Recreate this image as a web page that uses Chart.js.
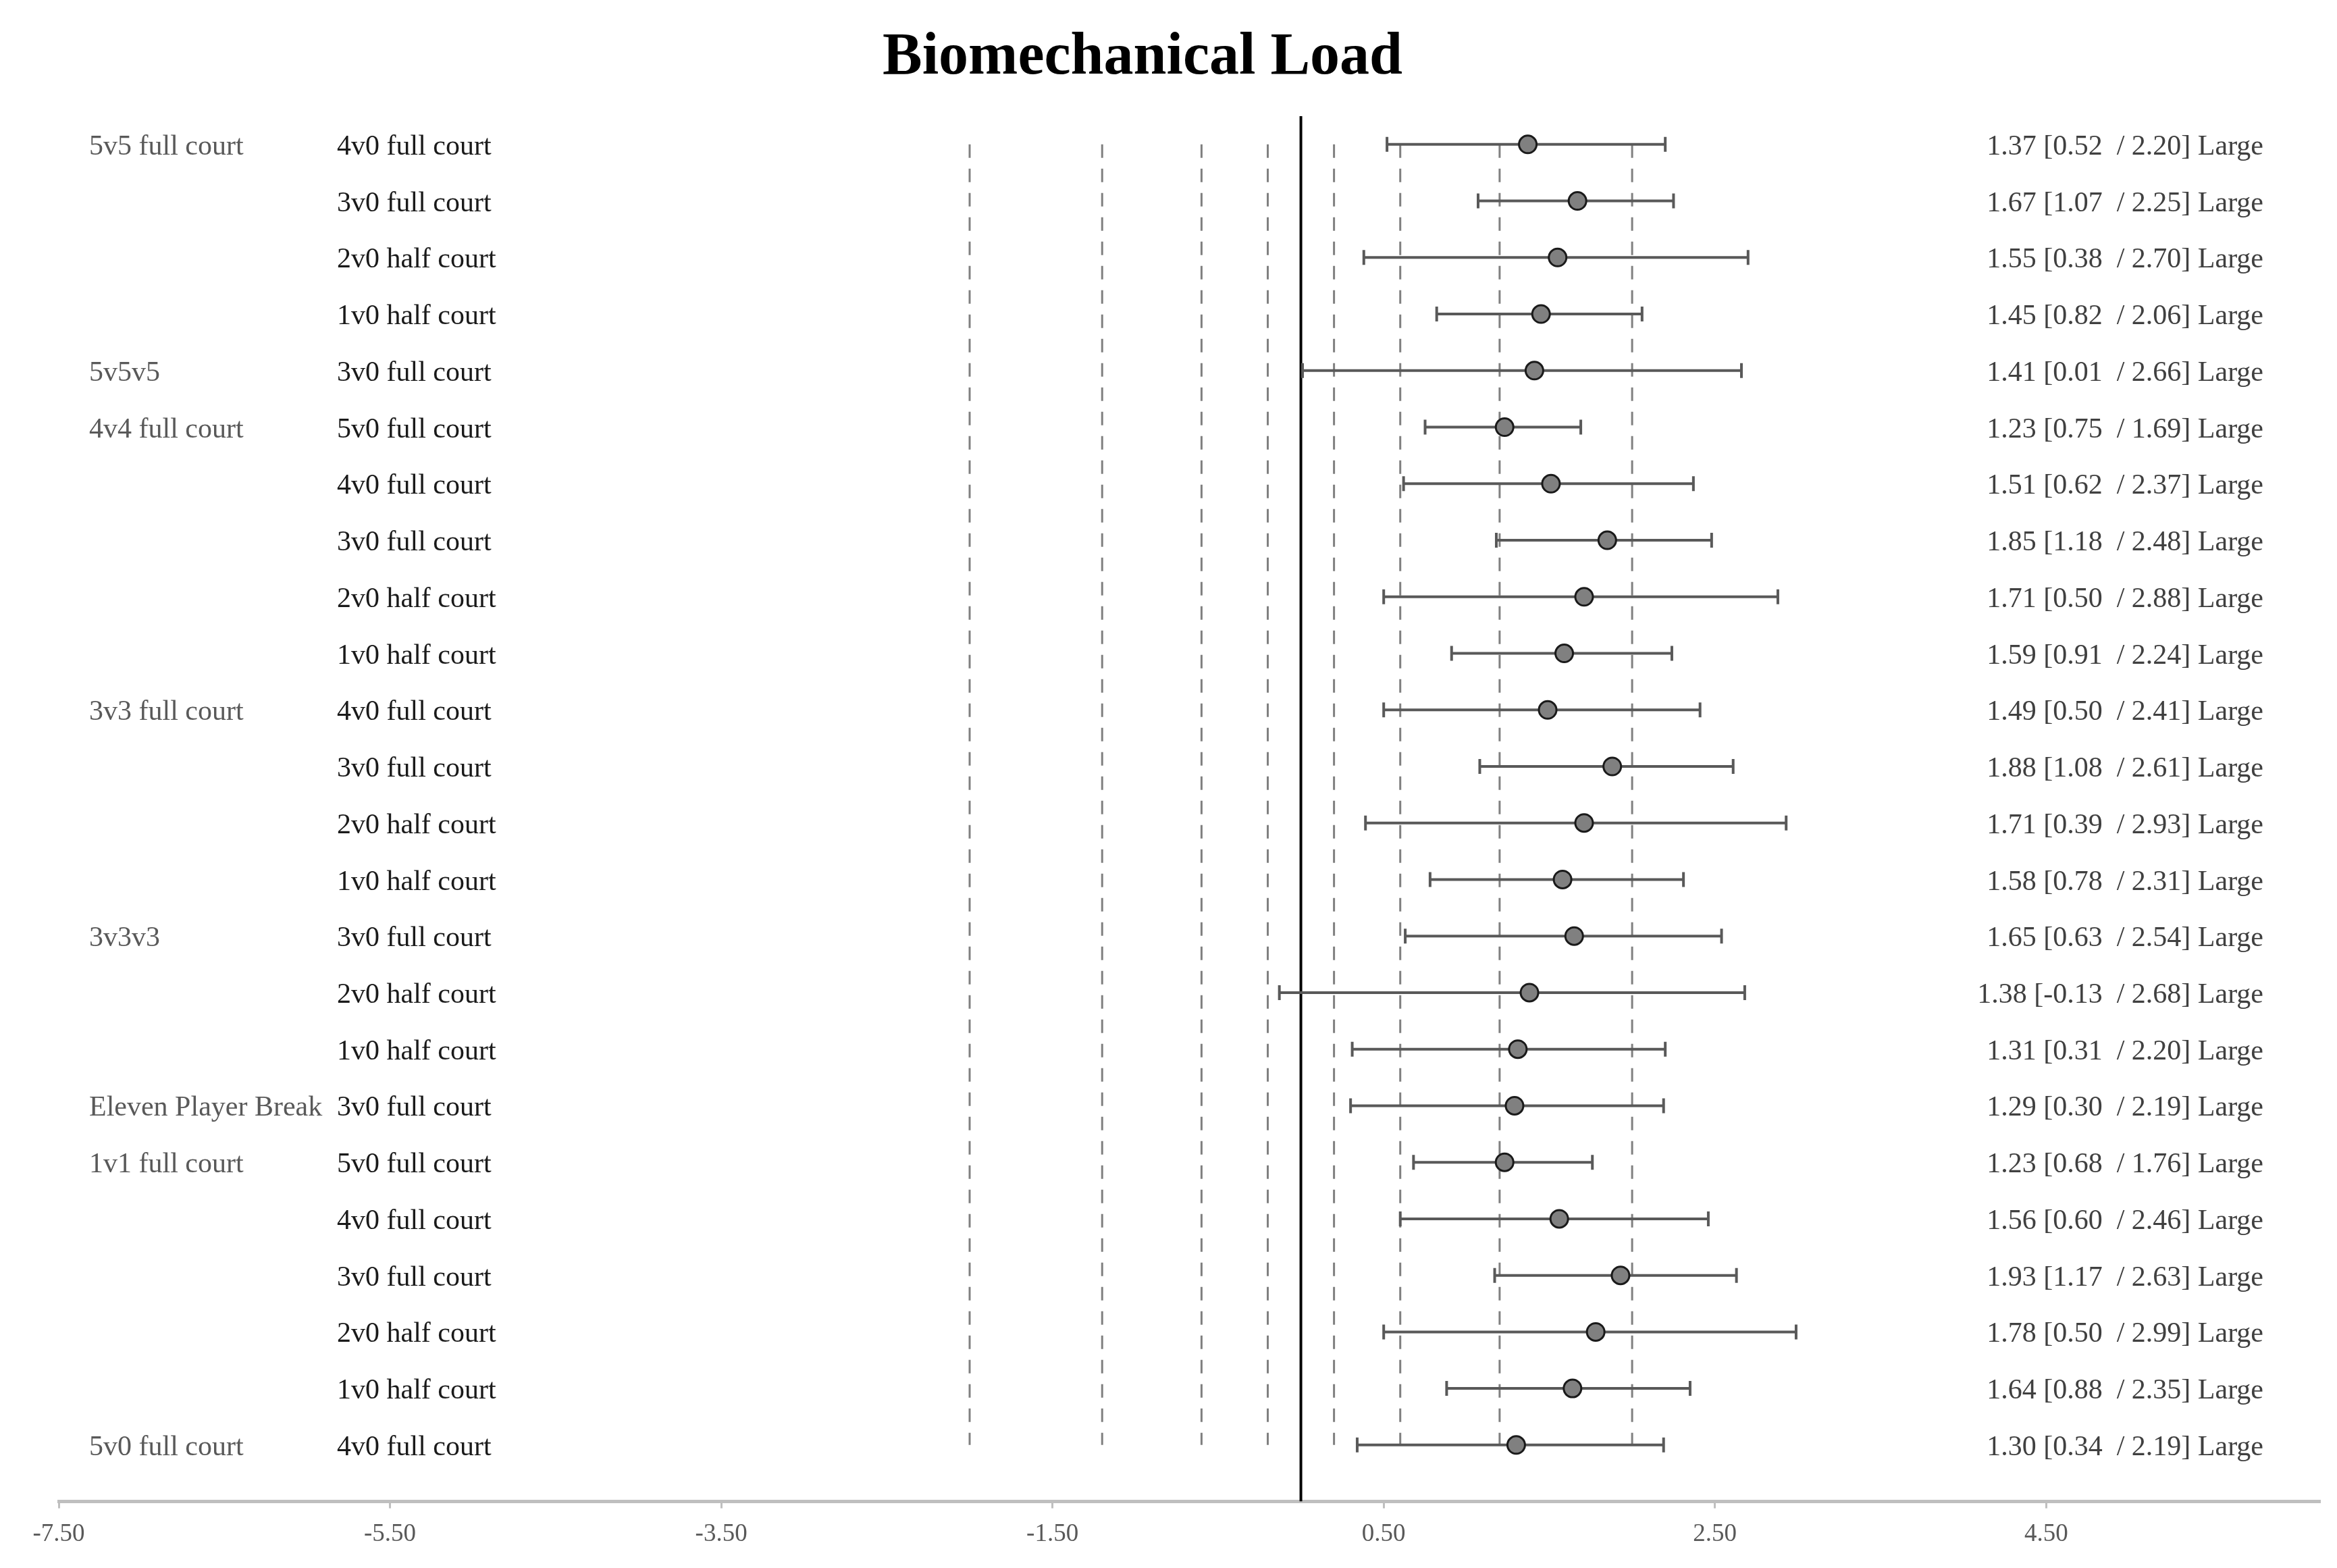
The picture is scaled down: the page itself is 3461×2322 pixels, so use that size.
<!DOCTYPE html>
<html>
<head>
<meta charset="utf-8">
<script src="https://cdn.jsdelivr.net/npm/chart.js@4.4.1/dist/chart.umd.min.js"></script>
<style>
  html, body { margin: 0; padding: 0; background: #fff; }
  #chart { display: block; }
</style>
</head>
<body>
<canvas id="chart" width="3461" height="2322"></canvas>
<script>
// rows, top to bottom
const groups = [
  "5v5 full court", "", "", "",
  "5v5v5",
  "4v4 full court", "", "", "", "",
  "3v3 full court", "", "", "",
  "3v3v3", "", "",
  "Eleven Player Break",
  "1v1 full court", "", "", "", "",
  "5v0 full court"
];
const drills = [
  "4v0 full court", "3v0 full court", "2v0 half court", "1v0 half court",
  "3v0 full court",
  "5v0 full court", "4v0 full court", "3v0 full court", "2v0 half court", "1v0 half court",
  "4v0 full court", "3v0 full court", "2v0 half court", "1v0 half court",
  "3v0 full court", "2v0 half court", "1v0 half court",
  "3v0 full court",
  "5v0 full court", "4v0 full court", "3v0 full court", "2v0 half court", "1v0 half court",
  "4v0 full court"
];
const effect = [1.37, 1.67, 1.55, 1.45, 1.41, 1.23, 1.51, 1.85, 1.71, 1.59, 1.49, 1.88,
                1.71, 1.58, 1.65, 1.38, 1.31, 1.29, 1.23, 1.56, 1.93, 1.78, 1.64, 1.30];
const lower  = [0.52, 1.07, 0.38, 0.82, 0.01, 0.75, 0.62, 1.18, 0.50, 0.91, 0.50, 1.08,
                0.39, 0.78, 0.63, -0.13, 0.31, 0.30, 0.68, 0.60, 1.17, 0.50, 0.88, 0.34];
const upper  = [2.20, 2.25, 2.70, 2.06, 2.66, 1.69, 2.37, 2.48, 2.88, 2.24, 2.41, 2.61,
                2.93, 2.31, 2.54, 2.68, 2.20, 2.19, 1.76, 2.46, 2.63, 2.99, 2.35, 2.19];
const magnitude = Array(24).fill("Large");
const thresholds = [-2.0, -1.2, -0.6, -0.2, 0.2, 0.6, 1.2, 2.0];
const xTicks = [-7.5, -5.5, -3.5, -1.5, 0.5, 2.5, 4.5];

const SERIF = "'Liberation Serif', 'Times New Roman', serif";

const datasets = [];

// threshold dashed lines
thresholds.forEach((t) => {
  datasets.push({
    type: "line",
    data: [{ x: t, y: 0 }, { x: t, y: effect.length - 1 }],
    borderColor: "#808080",
    borderWidth: 3,
    borderDash: [20, 16],
    pointRadius: 0,
    order: 5,
  });
});

// zero line
datasets.push({
  type: "line",
  data: [{ x: 0, y: -0.5 }, { x: 0, y: effect.length }],
  borderColor: "#000000",
  borderWidth: 4,
  pointRadius: 0,
  order: 4,
});

// confidence intervals, caps drawn as rotated line points
effect.forEach((v, i) => {
  datasets.push({
    type: "line",
    data: [{ x: lower[i], y: i }, { x: upper[i], y: i }],
    borderColor: "#595959",
    borderWidth: 4,
    pointStyle: "line",
    rotation: 90,
    pointRadius: 11,
    pointBorderWidth: 4,
    pointBorderColor: "#595959",
    pointHoverRadius: 11,
    order: 3,
  });
});

// effect sizes
datasets.push({
  type: "scatter",
  data: effect.map((v, i) => ({ x: v, y: i })),
  backgroundColor: "#808080",
  borderColor: "#1a1a1a",
  borderWidth: 3,
  pointRadius: 13,
  pointHoverRadius: 13,
  order: 1,
});

const rowLabels = {
  id: "rowLabels",
  afterDraw(chart) {
    const ctx = chart.ctx;
    const y = chart.scales.y;
    ctx.save();
    ctx.textBaseline = "middle";
    ctx.font = "42px " + SERIF;
    effect.forEach((v, i) => {
      const py = y.getPixelForValue(i) + 4;
      ctx.textAlign = "left";
      ctx.fillStyle = "#595959";
      ctx.fillText(groups[i], 132, py);
      ctx.fillStyle = "#1a1a1a";
      ctx.fillText(drills[i], 499, py);
      ctx.textAlign = "right";
      ctx.fillStyle = "#404040";
      const txt = v.toFixed(2) + " [" + lower[i].toFixed(2) + "  / " + upper[i].toFixed(2) + "] " + magnitude[i];
      ctx.fillText(txt, 3352, py);
    });
    // title
    ctx.textAlign = "center";
    ctx.fillStyle = "#000000";
    ctx.font = "bold 88px " + SERIF;
    ctx.fillText("Biomechanical Load", 1692, 86);
    ctx.restore();
  },
};

new Chart(document.getElementById("chart"), {
  data: { datasets: datasets },
  options: {
    responsive: false,
    animation: false,
    devicePixelRatio: 1,
    layout: { padding: { left: 87, right: 26, top: 172, bottom: 12 } },
    plugins: { legend: { display: false }, tooltip: { enabled: false }, title: { display: false } },
    scales: {
      x: {
        type: "linear",
        min: -7.5,
        max: 6.15,
        afterBuildTicks: (scale) => {
          scale.ticks = xTicks.map((v) => ({ value: v }));
        },
        ticks: {
          callback: (v) => Number(v).toFixed(2),
          color: "#595959",
          font: { family: SERIF, size: 37 },
          padding: 16,
          maxRotation: 0,
        },
        grid: {
          drawOnChartArea: false,
          drawTicks: true,
          tickLength: 10,
          color: "#bfbfbf",
          lineWidth: 3,
        },
        border: { color: "#bfbfbf", width: 5 },
      },
      y: {
        type: "linear",
        display: false,
        reverse: true,
        min: -0.5,
        max: effect.length,
      },
    },
  },
  plugins: [rowLabels],
});
</script>
</body>
</html>
